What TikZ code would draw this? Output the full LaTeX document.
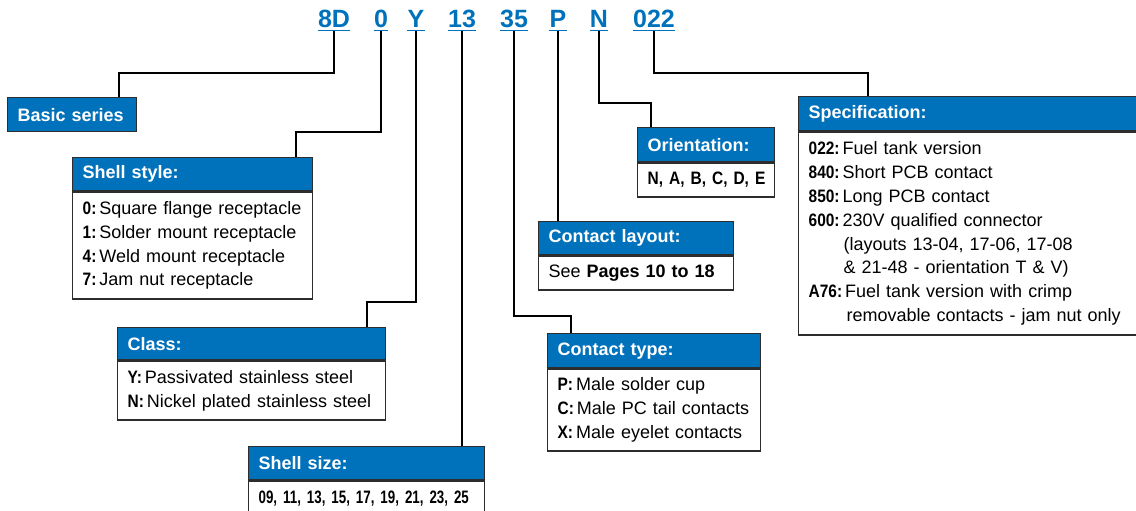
\documentclass[tikz,border=0pt]{standalone}
\usepackage{fontspec}
\setmainfont{Liberation Sans}
\newfontfamily\cnd{Liberation Sans}[FakeStretch=0.86]
\newfontfamily\cndd{Liberation Sans}[FakeStretch=0.74]
\newcommand\lbl[1]{{\cnd\bfseries #1}\hspace{3pt}}
\definecolor{hblue}{RGB}{0,113,187}
\definecolor{bord}{RGB}{45,45,45}
\newcommand\infobox[8]{%
  \pgfmathsetmacro\tw{#4-20}%
  \node[hdr, text width=\tw pt, minimum height=#5pt] (#1h) at (#2,#3) {#7};
  \node[bdy, text width=\tw pt, minimum height=#6pt] (#1b) at (#1h.south west)
    {\begin{tabular}{@{}l@{}}#8\end{tabular}};}
\begin{document}
\begin{tikzpicture}[x=1pt,y=-1pt,
  hdr/.style={draw=bord, line width=1.3pt, fill=hblue, text=white,
    font=\fontsize{18}{22}\selectfont\bfseries, anchor=north west,
    inner xsep=10pt, inner ysep=0pt, align=left},
  bdy/.style={draw=bord, line width=1.3pt, fill=white,
    font=\fontsize{18}{23.8}\selectfont, anchor=north west,
    inner xsep=10pt, inner ysep=0pt, align=left},
  code/.style={text=hblue, font=\fontsize{25}{30}\selectfont\bfseries,
    inner sep=0pt, anchor=base},
  ul/.style={draw=hblue, line width=1.8pt},
  conn/.style={draw=black, line width=1.2pt}]
\useasboundingbox (0,0) rectangle (1136,511);

% code labels
\node[code] (c8D) at (334,28) {8D};
\node[code] (c0)  at (381,28) {0};
\node[code] (cY)  at (416,28) {Y};
\node[code] (c13) at (462,28) {13};
\node[code] (c35) at (514,28) {35};
\node[code] (cP)  at (558,28) {P};
\node[code] (cN)  at (599,28) {N};
\node[code] (c022) at (654,28) {022};
\foreach \c in {c8D,c0,cY,c13,c35,cP,cN,c022}{
  \draw[ul] ([yshift=-2.5pt]\c.base west) -- ([yshift=-2.5pt]\c.base east);
  \coordinate (t\c) at ([yshift=-3pt]\c.base);
}

% boxes
\node[hdr, text width=109pt, minimum height=34pt] (basic) at (7,97) {Basic series};

\infobox{shell}{72}{157}{240}{33}{107}{Shell style:}{%
  \lbl{0:}Square flange receptacle\\
  \lbl{1:}Solder mount receptacle\\
  \lbl{4:}Weld mount receptacle\\
  \lbl{7:}Jam nut receptacle}

\infobox{class}{117}{327}{268}{32}{59}{Class:}{%
  \lbl{Y:}Passivated stainless steel\\
  \lbl{N:}Nickel plated stainless steel}

\infobox{size}{248}{446}{236}{33}{36}{Shell size:}{%
  {\cndd\bfseries 09, 11, 13, 15, 17, 19, 21, 23, 25}}

\infobox{orient}{637}{127}{137}{34}{34}{Orientation:}{%
  {\cnd\bfseries N, A, B, C, D, E}}

\infobox{layout}{538}{221}{195}{33}{34}{Contact layout:}{%
  See \textbf{Pages 10 to 18}}

\infobox{ctype}{547}{333}{213}{34}{82}{Contact type:}{%
  \lbl{P:}Male solder cup\\
  \lbl{C:}Male PC tail contacts\\
  \lbl{X:}Male eyelet contacts}

\infobox{spec}{798}{96}{345}{34}{203}{Specification:}{%
  \lbl{022:}Fuel tank version\\
  \lbl{840:}Short PCB contact\\
  \lbl{850:}Long PCB contact\\
  \lbl{600:}230V qualified connector\\
  \hspace*{35pt}(layouts 13-04, 17-06, 17-08\\
  \hspace*{35pt}\& 21-48 - orientation T \& V)\\
  \lbl{A76:}Fuel tank version with crimp\\
  \hspace*{38pt}removable contacts - jam nut only}

% connectors
\coordinate (k8D) at (119,73);
\coordinate (k0) at (296,132);
\coordinate (kY) at (367,302);
\coordinate (k35) at (571,316);
\coordinate (kN) at (651,103);
\coordinate (k022) at (868,73);
\draw[conn] (tc8D) |- (k8D) -- (k8D |- basic.north);
\draw[conn] (tc0) |- (k0) -- (k0 |- shellh.north);
\draw[conn] (tcY) |- (kY) -- (kY |- classh.north);
\draw[conn] (tc13) -- (tc13 |- sizeh.north);
\draw[conn] (tc35) |- (k35) -- (k35 |- ctypeh.north);
\draw[conn] (tcP) -- (tcP |- layouth.north);
\draw[conn] (tcN) |- (kN) -- (kN |- orienth.north);
\draw[conn] (tc022) |- (k022) -- (k022 |- spech.north);
\end{tikzpicture}
\end{document}
